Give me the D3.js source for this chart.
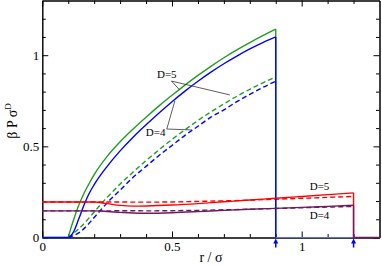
<!DOCTYPE html>
<html>
<head>
<meta charset="utf-8">
<script src="https://cdn.jsdelivr.net/npm/d3@7"></script>
<style>
  body { margin: 0; background: #fff; }
  svg { display: block; }
  .axis text { font-family: "Times New Roman", "Liberation Serif", serif; font-size: 13px; fill: #000; }
  .axis path, .axis line { stroke: #000; }
  .lbl { font-family: "Times New Roman", "Liberation Serif", serif; }
</style>
</head>
<body>
<div class="chart"></div>
<script>
// hard-sphere pressure curves
const cutoffs = [0.9, 1.2];

// solid rising curves (D=5 green, D=4 blue)
const rRise = [0.1, 0.11, 0.12, 0.14, 0.16, 0.18, 0.2, 0.25, 0.3, 0.35, 0.4, 0.45, 0.5, 0.55, 0.6, 0.65, 0.7, 0.75, 0.8, 0.85, 0.9];
const greenSolid = [0, 0.05, 0.095, 0.175, 0.24, 0.295, 0.345, 0.445, 0.525, 0.595, 0.66, 0.722, 0.78, 0.836, 0.889, 0.939, 0.986, 1.029, 1.069, 1.107, 1.143];
const blueSolid  = [0, 0.01, 0.03, 0.10, 0.175, 0.24, 0.29, 0.39, 0.475, 0.55, 0.618, 0.683, 0.745, 0.803, 0.857, 0.907, 0.953, 0.995, 1.034, 1.069, 1.10];

// dashed rising curves
const rDash = [0.1, 0.15, 0.2, 0.25, 0.3, 0.35, 0.4, 0.45, 0.5, 0.55, 0.6, 0.65, 0.7, 0.75, 0.8, 0.85, 0.9];
const greenDash = [0, 0.06, 0.14, 0.22, 0.293, 0.359, 0.422, 0.481, 0.538, 0.591, 0.642, 0.689, 0.733, 0.775, 0.813, 0.848, 0.88];
const blueDash  = [0, 0.035, 0.11, 0.19, 0.26, 0.33, 0.39, 0.45, 0.505, 0.56, 0.61, 0.66, 0.70, 0.745, 0.785, 0.823, 0.857];

// flat curves (D=5 red, D=4 maroon)
const rLow = [0, 0.1, 0.2, 0.25, 0.3, 0.35, 0.4, 0.5, 0.6, 0.7, 0.8, 0.9, 1.0, 1.1, 1.2];
const redSolid    = [0.195, 0.195, 0.195, 0.186, 0.176, 0.172, 0.173, 0.178, 0.186, 0.196, 0.206, 0.215, 0.225, 0.235, 0.245];
const redDash     = [0.195, 0.195, 0.195, 0.195, 0.195, 0.194, 0.194, 0.195, 0.198, 0.201, 0.205, 0.21, 0.215, 0.22, 0.225];
const maroonSolid = [0.146, 0.146, 0.146, 0.143, 0.138, 0.134, 0.133, 0.136, 0.142, 0.149, 0.155, 0.16, 0.165, 0.171, 0.177];
const maroonDash  = [0.146, 0.146, 0.146, 0.146, 0.147, 0.147, 0.146, 0.147, 0.149, 0.152, 0.155, 0.159, 0.163, 0.167, 0.17];

const xMajor = [0, 0.5, 1];
const yMajor = [0, 0.5, 1];

const W = 382, H = 265;
const svg = d3.select('.chart').append('svg')
    .attr('width', W)
    .attr('height', H);

const x = d3.scaleLinear().domain([0, 1.3]).range([42.3, 379.5]);
const y = d3.scaleLinear().domain([0, 1.3]).range([237.5, 0.5]);

const minorX = d3.range(1, 13).map(d => d / 10).filter(d => !xMajor.includes(d));
const minorY = d3.range(1, 13).map(d => d / 10).filter(d => !yMajor.includes(d));
const fmt = d => String(d);

// axes, ticks pointing inward
svg.append('g').attr('class', 'axis')
    .attr('transform', `translate(0,${y(0)})`)
    .call(d3.axisBottom(x).tickValues(xMajor).tickSize(-6).tickSizeOuter(0).tickPadding(4).tickFormat(fmt));
svg.append('g').attr('class', 'axis')
    .attr('transform', `translate(0,${y(0)})`)
    .call(d3.axisBottom(x).tickValues(minorX).tickSize(-3.5).tickSizeOuter(0).tickFormat(''));
svg.append('g').attr('class', 'axis')
    .attr('transform', `translate(0,${y(1.3)})`)
    .call(d3.axisTop(x).tickValues(xMajor).tickSize(-6).tickSizeOuter(0).tickFormat(''));
svg.append('g').attr('class', 'axis')
    .attr('transform', `translate(0,${y(1.3)})`)
    .call(d3.axisTop(x).tickValues(minorX).tickSize(-3.5).tickSizeOuter(0).tickFormat(''));

svg.append('g').attr('class', 'axis')
    .attr('transform', `translate(${x(0)},0)`)
    .call(d3.axisLeft(y).tickValues(yMajor).tickSize(-6).tickSizeOuter(0).tickPadding(3).tickFormat(fmt));
svg.append('g').attr('class', 'axis')
    .attr('transform', `translate(${x(0)},0)`)
    .call(d3.axisLeft(y).tickValues(minorY).tickSize(-3.5).tickSizeOuter(0).tickFormat(''));
svg.append('g').attr('class', 'axis')
    .attr('transform', `translate(${x(1.3)},0)`)
    .call(d3.axisRight(y).tickValues(yMajor).tickSize(-6).tickSizeOuter(0).tickFormat(''));
svg.append('g').attr('class', 'axis')
    .attr('transform', `translate(${x(1.3)},0)`)
    .call(d3.axisRight(y).tickValues(minorY).tickSize(-3.5).tickSizeOuter(0).tickFormat(''));

// axis titles
svg.append('text')
    .attr('class', 'lbl')
    .attr('x', 211).attr('y', 262)
    .attr('text-anchor', 'middle')
    .style('font-size', '14px')
    .text('r / σ');

const yt = svg.append('text')
    .attr('class', 'lbl')
    .attr('transform', 'translate(17,121) rotate(-90)')
    .attr('text-anchor', 'middle')
    .style('font-size', '14px');
yt.append('tspan').text('β P σ');
yt.append('tspan').attr('dy', -6).style('font-size', '9px').text('D');

// curves
const smooth = d3.line().x(d => x(d[0])).y(d => y(d[1])).curve(d3.curveMonotoneX);
const line = d3.line().x(d => x(d[0])).y(d => y(d[1]));
const zip = (rs, vs) => rs.map((r, i) => [r, vs[i]]);

function drawPath(pts, color, dashed, gen, width) {
    svg.append('path')
        .datum(pts)
        .attr('fill', 'none')
        .attr('stroke', color)
        .attr('stroke-width', width || 1.4)
        .attr('stroke-dasharray', dashed ? '5,3' : null)
        .attr('d', gen);
}

const green = '#1f9f1f', blue = '#0000ff', red = '#ff0000', maroon = '#6e1a5c';

drawPath(zip(rDash, greenDash), green, true, smooth);
drawPath(zip(rDash, blueDash), blue, true, smooth);
drawPath(zip(rLow, redDash), red, true, smooth);
drawPath(zip(rLow, maroonDash), maroon, true, smooth);

// green D=5 solid: zero below contact, rise, drop at the cutoff
drawPath([[0, 0], [rRise[0], 0]], green, false, line);
drawPath(zip(rRise, greenSolid), green, false, smooth);
drawPath([[cutoffs[0], greenSolid[greenSolid.length - 1]], [cutoffs[0], 0]], green, false, line);

drawPath([[0, 0], [rRise[0], 0]], blue, false, line);
drawPath(zip(rRise, blueSolid), blue, false, smooth);
drawPath([[cutoffs[0], blueSolid[blueSolid.length - 1]], [cutoffs[0], 0]], blue, false, line);
drawPath([[cutoffs[0], 0], [1.3, 0]], '#5a6cff', false, line, 1);

drawPath(zip(rLow, redSolid), red, false, smooth);
drawPath([[cutoffs[1], redSolid[redSolid.length - 1]], [cutoffs[1], 0]], red, false, line);

drawPath(zip(rLow, maroonSolid), maroon, false, smooth);
drawPath([[cutoffs[1], maroonSolid[maroonSolid.length - 1]], [cutoffs[1], 0], [1.3, 0]], maroon, false, line);

// small arrows marking the cutoffs
cutoffs.forEach(c => {
    const cx = x(c), base = y(0);
    svg.append('line')
        .attr('x1', cx).attr('x2', cx)
        .attr('y1', base + 10).attr('y2', base + 4)
        .attr('stroke', blue).attr('stroke-width', 1.5);
    svg.append('path')
        .attr('d', `M${cx - 2.5},${base + 6} L${cx},${base + 1} L${cx + 2.5},${base + 6} Z`)
        .attr('fill', blue);
});

// labels with leader lines
const notes = [
    { text: 'D=5', r: 0.442, v: 0.873 },
    { text: 'D=4', r: 0.399, v: 0.555 },
    { text: 'D=5', r: 1.031, v: 0.263 },
    { text: 'D=4', r: 1.031, v: 0.099 }
];
notes.forEach(n => {
    svg.append('text')
        .attr('class', 'lbl')
        .attr('x', x(n.r)).attr('y', y(n.v))
        .style('font-size', '11px')
        .text(n.text);
});

const leaders = [
    [[0.528, 0.812], [0.498, 0.858], [0.723, 0.782]],
    [[0.511, 0.749], [0.48, 0.595], [0.576, 0.59]]
];
leaders.forEach(pts => drawPath(pts, '#333', false, line, 0.8));
</script>
</body>
</html>
